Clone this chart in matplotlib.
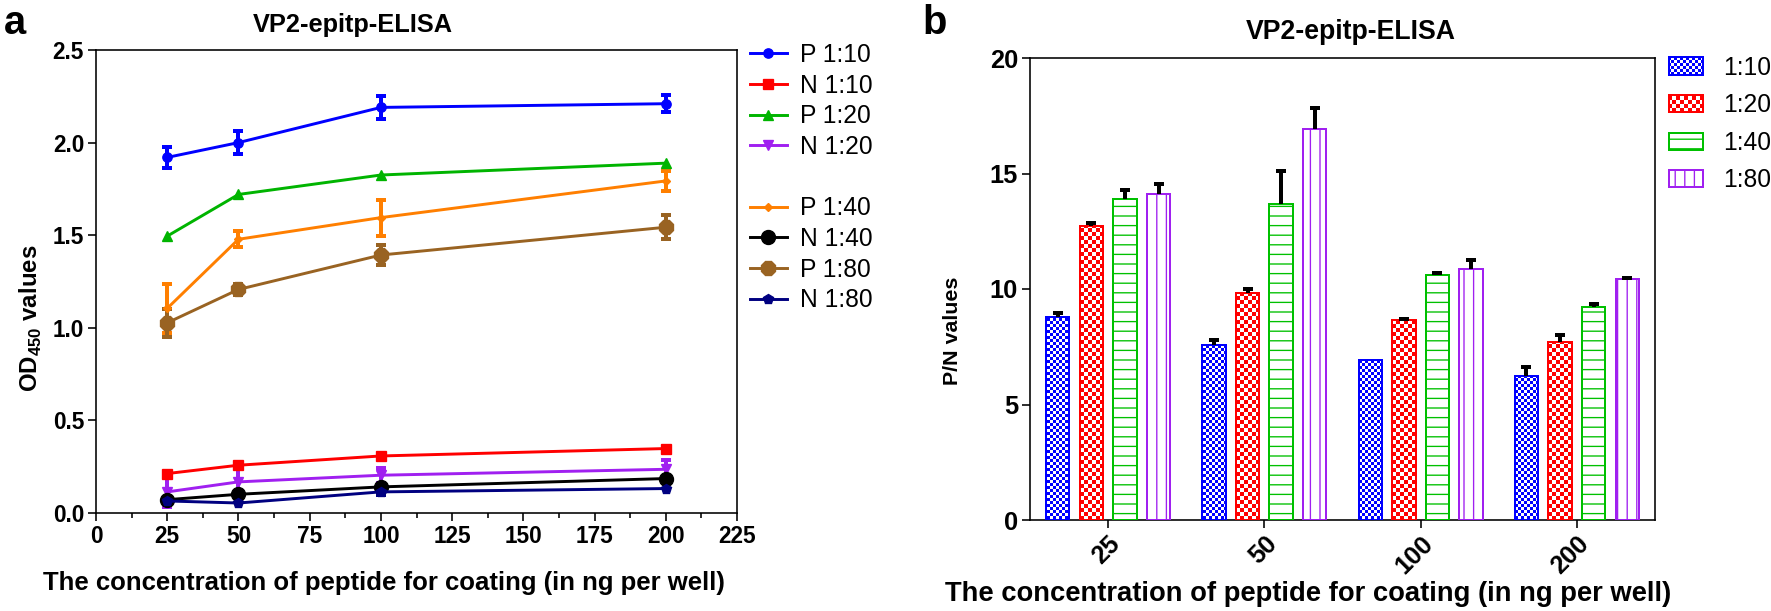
import numpy as np
import matplotlib
matplotlib.use("Agg")
import matplotlib.pyplot as plt
import matplotlib.hatch as mhatch
from matplotlib.path import Path
from matplotlib.lines import Line2D
from functools import partial

# ---------------- data: panel a ----------------
conc = [25, 50, 100, 200]
a_labels = ["P 1:10", "N 1:10", "P 1:20", "N 1:20", "P 1:40", "N 1:40", "P 1:80", "N 1:80"]
p_1_10 = [1.92, 2.00, 2.19, 2.21]
p_1_10_err = [0.058, 0.06, 0.06, 0.045]
n_1_10 = [0.213, 0.258, 0.308, 0.348]
n_1_10_err = [0.0, 0.0, 0.0, 0.0]
p_1_20 = [1.495, 1.72, 1.825, 1.889]
p_1_20_err = [0.0, 0.0, 0.0, 0.0]
n_1_20 = [0.114, 0.168, 0.204, 0.236]
n_1_20_err = [0.08, 0.08, 0.04, 0.05]
p_1_40 = [1.105, 1.478, 1.595, 1.793]
p_1_40_err = [0.133, 0.043, 0.097, 0.056]
n_1_40 = [0.072, 0.101, 0.141, 0.186]
n_1_40_err = [0.0, 0.0, 0.0, 0.0]
p_1_80 = [1.027, 1.207, 1.393, 1.543]
p_1_80_err = [0.074, 0.03, 0.054, 0.066]
n_1_80 = [0.065, 0.054, 0.114, 0.132]
n_1_80_err = [0.0, 0.0, 0.015, 0.0]

# ---------------- data: panel b ----------------
b_categories = ["25", "50", "100", "200"]
b_labels = ["1:10", "1:20", "1:40", "1:80"]
pn_1_10 = [8.77, 7.57, 6.92, 6.22]
pn_1_10_err = [0.17, 0.21, 0.0, 0.4]
pn_1_20 = [12.74, 9.82, 8.65, 7.71]
pn_1_20_err = [0.13, 0.2, 0.05, 0.29]
pn_1_40 = [13.88, 13.68, 10.59, 9.2]
pn_1_40_err = [0.4, 1.43, 0.1, 0.15]
pn_1_80 = [14.11, 16.92, 10.88, 10.42]
pn_1_80_err = [0.42, 0.93, 0.37, 0.05]

# ---------------- custom hatches ----------------
class Checker:
    def __init__(self, hatch, density, char='o', n=24):
        self.n = n
        self.num_vertices = 5 * (n * n // 2) if (hatch and char in hatch) else 0

    def set_vertices_and_codes(self, vertices, codes):
        n = self.n
        k = 0
        d = 1.0 / n
        for i in range(n):
            for j in range(n):
                if (i + j) % 2 == 0:
                    x0, y0 = i * d, j * d
                    vertices[k:k + 5] = [(x0, y0), (x0 + d, y0), (x0 + d, y0 + d), (x0, y0 + d), (x0, y0)]
                    codes[k:k + 5] = [Path.MOVETO, Path.LINETO, Path.LINETO, Path.LINETO, Path.CLOSEPOLY]
                    k += 5


class Lines:
    def __init__(self, hatch, density, char='-', n=10, vertical=False):
        self.n = n
        self.vertical = vertical
        self.num_vertices = 2 * n if (hatch and char in hatch) else 0

    def set_vertices_and_codes(self, vertices, codes):
        pos = (np.arange(self.n) + 0.5) / self.n
        if self.vertical:
            vertices[0::2, 0] = pos
            vertices[0::2, 1] = 0
            vertices[1::2, 0] = pos
            vertices[1::2, 1] = 1
        else:
            vertices[0::2, 0] = 0
            vertices[0::2, 1] = pos
            vertices[1::2, 0] = 1
            vertices[1::2, 1] = pos
        codes[0::2] = Path.MOVETO
        codes[1::2] = Path.LINETO


mhatch._hatch_types = [
    partial(Checker, char='.', n=32),
    partial(Checker, char='o', n=24),
    partial(Lines, char='-', n=10, vertical=False),
    partial(Lines, char='|', n=10, vertical=True),
]

# ---------------- style ----------------
plt.rcParams['font.family'] = ['Liberation Sans', 'DejaVu Sans']
plt.rcParams['mathtext.fontset'] = 'custom'
plt.rcParams['mathtext.rm'] = 'Liberation Sans'
plt.rcParams['mathtext.bf'] = 'Liberation Sans:bold'
plt.rcParams['axes.linewidth'] = 1.2
plt.rcParams['xtick.major.width'] = 1.2
plt.rcParams['ytick.major.width'] = 1.2
plt.rcParams['xtick.minor.width'] = 1.2
plt.rcParams['xtick.major.size'] = 6
plt.rcParams['ytick.major.size'] = 6
plt.rcParams['xtick.minor.size'] = 4

DPI = 96
W, H = 1771, 611
fig = plt.figure(figsize=(W / DPI, H / DPI), dpi=DPI)

def fx(px):
    return px / W

def fy(px):
    return px / H

# ---------------- panel a ----------------
ax = fig.add_axes([fx(96), fy(611 - 513), fx(737 - 96), fy(513 - 50)])
series = [
    (p_1_10, p_1_10_err, '#0000FF', 'o', 7),
    (n_1_10, n_1_10_err, '#FF0000', 's', 7),
    (p_1_20, p_1_20_err, '#00B400', '^', 8),
    (n_1_20, n_1_20_err, '#A020F0', 'v', 8),
    (p_1_40, p_1_40_err, '#FF7F00', 'D', 4.5),
    (n_1_40, n_1_40_err, '#000000', 'o', 10.5),
    (p_1_80, p_1_80_err, '#996322', '8', 11),
    (n_1_80, n_1_80_err, '#000080', 'p', 8),
]
handles = []
for (vals, err, col, mk, ms), lab in zip(series, a_labels):
    e = np.array(err, dtype=float)
    e = np.where(e > 0, e, np.nan)
    ax.errorbar(conc, vals, yerr=e, color=col, ecolor=col, marker=mk, markersize=ms,
                linewidth=2.2, elinewidth=3, capsize=4, capthick=3, clip_on=False)
    handles.append(Line2D([], [], color=col, marker=mk, markersize=ms, linewidth=2.2, label=lab))

ax.set_xlim(0, 225)
ax.set_ylim(0, 2.5)
ax.set_xticks(np.arange(0, 226, 25))
ax.set_xticks(np.arange(12.5, 225, 25), minor=True)
ax.set_yticks(np.arange(0, 2.51, 0.5))
ax.set_yticklabels([f"{v:.1f}" for v in np.arange(0, 2.51, 0.5)])
for lbl in ax.get_xticklabels() + ax.get_yticklabels():
    lbl.set_fontweight('bold')
    lbl.set_fontsize(17)
ax.tick_params(direction='out', pad=3)
ax.set_title("VP2-epitp-ELISA", fontsize=19, fontweight='bold', pad=13.5, x=0.40)
ax.set_xlabel("The concentration of peptide for coating (in ng per well)", fontsize=19.3,
              fontweight='bold')
ax.xaxis.set_label_coords(0.449, -0.151)
ax.xaxis.label.set_va('center')
ax.set_ylabel(r"OD$_\mathbf{450}$ values", fontsize=18, fontweight='bold')
ax.yaxis.set_label_coords(-0.102, 0.42)
ax.yaxis.label.set_va('center')

blank = Line2D([], [], linestyle='none', marker=None, label=' ')
leg_handles = handles[:4] + [blank] + handles[4:]
leg = ax.legend(handles=leg_handles, loc='upper left', bbox_to_anchor=(1.02, 1.015), frameon=False,
                fontsize=18.5, handlelength=1.5, handletextpad=0.55, labelspacing=0.27,
                borderaxespad=0, borderpad=0)

# ---------------- panel b ----------------
bx = fig.add_axes([fx(1030), fy(611 - 520), fx(1655 - 1030), fy(520 - 58)])
x = np.arange(len(b_categories))
step = 0.215
width = 0.15
bseries = [
    (pn_1_10, pn_1_10_err, '#0000FF', '.', 0.0),
    (pn_1_20, pn_1_20_err, '#FF0000', 'o', 0.0),
    (pn_1_40, pn_1_40_err, '#00C000', '-', 1.0),
    (pn_1_80, pn_1_80_err, '#A020F0', '|', 1.0),
]
bar_handles = []
for i, ((vals, err, col, hat, hlw), lab) in enumerate(zip(bseries, b_labels)):
    pos = x + (i - 1.5) * step
    with plt.rc_context({'hatch.linewidth': hlw}):
        bars = bx.bar(pos, vals, width=width, facecolor='white', edgecolor=col, hatch=hat,
                      linewidth=1.5, label=lab, zorder=3)
    for p in bars:
        if hasattr(p, 'set_hatch_linewidth'):
            p.set_hatch_linewidth(hlw)
    bar_handles.append(bars)
    e = np.array(err, dtype=float)
    e = np.where(e > 0, e, np.nan)
    lo = np.zeros_like(e)
    _, caps, _ = bx.errorbar(pos, vals, yerr=[lo, e], fmt='none', ecolor='black',
                             elinewidth=3, capsize=4, capthick=3, zorder=4)
    for c in caps:
        yd = np.asarray(c.get_ydata(), dtype=float)
        if np.allclose(yd, np.asarray(vals, dtype=float), equal_nan=True):
            c.set_visible(False)

bx.set_xlim(-0.5, 3.5)
bx.set_ylim(0, 20)
bx.set_xticks(x)
bx.set_xticklabels(b_categories, rotation=45, ha='right', rotation_mode='anchor')
bx.set_yticks([0, 5, 10, 15, 20])
for lbl in bx.get_xticklabels() + bx.get_yticklabels():
    lbl.set_fontweight('bold')
    lbl.set_fontsize(19)
bx.tick_params(direction='out', pad=3)
bx.set_title("VP2-epitp-ELISA", fontsize=20, fontweight='bold', pad=14, x=0.514)
bx.set_xlabel("The concentration of peptide for coating (in ng per well)", fontsize=20.5,
              fontweight='bold')
bx.xaxis.set_label_coords(0.445, -0.16)
bx.xaxis.label.set_va('center')
bx.set_ylabel("P/N values", fontsize=16, fontweight='bold')
bx.yaxis.set_label_coords(-0.124, 0.41)
bx.yaxis.label.set_va('center')

legb = bx.legend(handles=bar_handles, loc='upper left', bbox_to_anchor=(1.022, 1.005), frameon=False,
                 fontsize=18.5, handlelength=1.4, handleheight=0.7, handletextpad=0.8, labelspacing=0.55,
                 borderaxespad=0, borderpad=0)
for p, (_, _, _, _, hlw) in zip(legb.get_patches(), bseries):
    if hasattr(p, 'set_hatch_linewidth'):
        p.set_hatch_linewidth(hlw)

fig.text(fx(4), fy(611 - 4), 'a', fontsize=30, fontweight='bold', va='top', ha='left')
fig.text(fx(922), fy(611 - 4), 'b', fontsize=30, fontweight='bold', va='top', ha='left')

fig.savefig('out.png', dpi=DPI)
